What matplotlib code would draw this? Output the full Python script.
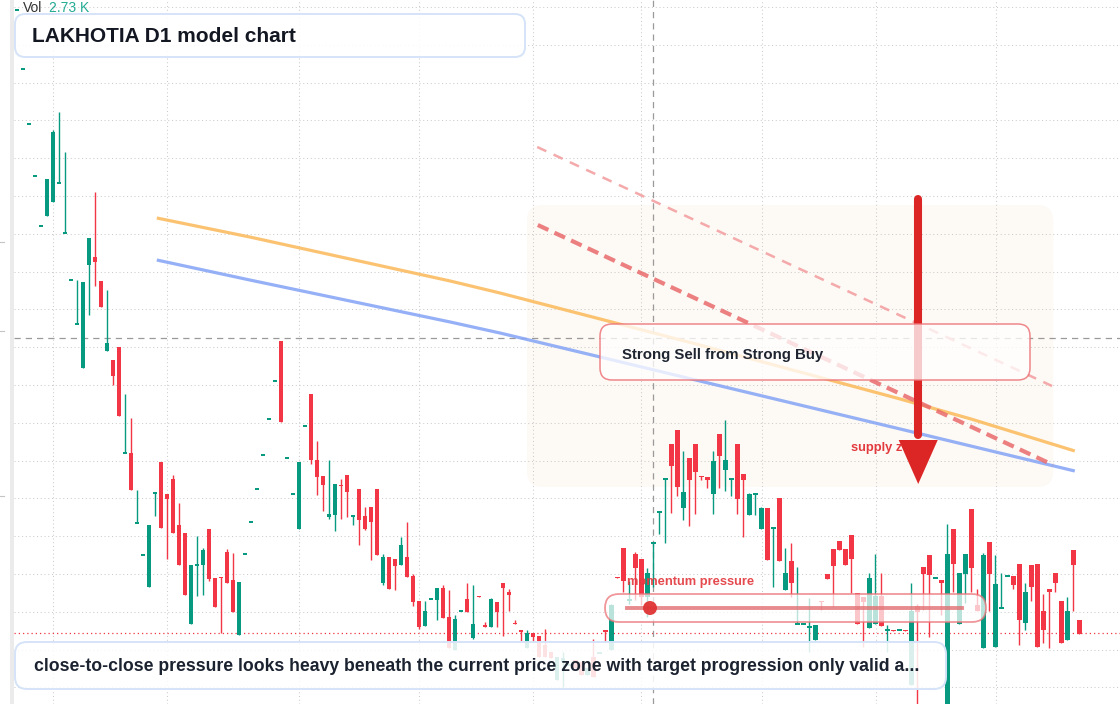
import matplotlib
matplotlib.use("Agg")
import matplotlib.pyplot as plt
import numpy as np
from matplotlib.patches import FancyBboxPatch, Polygon, Rectangle, Circle
from matplotlib.transforms import IdentityTransform
from matplotlib.lines import Line2D

plt.rcParams['font.family'] = ['Liberation Sans', 'DejaVu Sans']

# ---------------- data (daily candles, price units) ----------------
opens = [71.0, 65.1, 59.6, 54.4, 49.4, 50.4, 51.8, 53.7, 48.7, 44.0,
         39.6, 35.2, 45.5, 46.3, 43.9, 36.9, 36.0, 37.3, 26.7, 26.7,
         19.7, 16.5, 13.3, 22.7, 25.8, 22.6, 24.1, 19.5, 18.7, 9.6,
         15.5, 15.5, 19.1, 14.2, 14.3, 16.8, 14.0, 8.5, 16.6, 19.8,
         23.1, 26.5, 30.1, 33.9, 37.9, 26.2, 22.6, 19.1, 29.4, 32.6,
         26.0, 24.4, 20.3, 20.5, 23.5, 24.5, 20.4, 23.1, 20.4, 21.3,
         23.1, 13.7, 16.3, 16.1, 15.5, 16.3, 14.4, 11.9, 9.4, 12.1,
         12.0, 13.2, 10.3, 7.0, 10.9, 12.1, 8.2, 12.4, 9.5, 9.3,
         11.8, 13.7, 12.8, 9.7, 9.0, 7.2, 8.7, 8.4, 7.5, 6.8,
         4.0, 5.8, 5.5, 6.0, 5.8, 4.5, 6.3, 6.7, 9.0, 7.0,
         14.3, 17.2, 12.0, 16.6, 16.1, 12.3, 17.7, 20.8, 24.1, 27.6,
         29.0, 21.2, 26.2, 27.6, 24.4, 24.3, 22.6, 28.6, 25.0, 24.1,
         27.6, 24.6, 20.5, 22.6, 19.1, 21.2, 19.2, 22.2, 13.0, 15.9,
         9.6, 9.6, 9.3, 8.0, 11.9, 14.6, 17.1, 17.9, 17.1, 18.5,
         12.7, 12.3, 9.2, 9.6, 12.4, 9.0, 9.0, 9.0, 9.0, 3.5,
         11.4, 15.3, 16.5, 14.2, 14.0, 1.6, 19.1, 9.6, 14.6, 21.1,
         11.5, 7.2, 17.8, 7.3, 11.2, 14.4, 14.4, 15.6, 9.7, 15.5,
         15.6, 10.9, 13.1, 14.7, 11.9, 8.0, 17.0, 10.0]
highs = [71.0, 65.1, 59.6, 54.4, 49.4, 54.1, 59.0, 60.8, 56.8, 44.0,
         44.0, 43.8, 48.2, 52.8, 43.9, 43.0, 36.0, 37.3, 32.6, 30.2,
         23.0, 16.5, 19.5, 22.7, 25.8, 22.6, 24.5, 21.7, 18.7, 15.5,
         18.4, 17.2, 19.1, 14.2, 14.3, 17.1, 16.7, 13.8, 16.6, 19.8,
         23.1, 26.5, 30.1, 33.9, 37.9, 26.2, 22.6, 25.8, 29.4, 32.6,
         27.9, 24.4, 26.0, 23.6, 24.1, 24.5, 20.4, 23.1, 21.3, 21.3,
         23.1, 16.6, 16.3, 16.1, 18.3, 19.8, 14.6, 11.9, 11.9, 12.1,
         13.2, 13.5, 13.0, 10.5, 10.9, 13.7, 13.5, 12.4, 9.8, 12.2,
         11.8, 13.7, 13.1, 10.0, 9.0, 9.0, 8.7, 8.4, 9.1, 6.8,
         6.3, 6.8, 5.5, 6.0, 5.8, 5.2, 8.1, 6.7, 9.0, 11.6,
         14.3, 17.2, 13.9, 16.8, 16.1, 15.2, 17.7, 20.8, 24.1, 27.6,
         29.0, 26.9, 26.2, 27.6, 24.4, 24.3, 26.9, 28.6, 30.0, 24.1,
         27.6, 24.6, 22.7, 22.6, 21.3, 21.2, 19.2, 22.2, 17.2, 17.7,
         15.3, 9.6, 12.2, 9.5, 11.9, 14.6, 17.1, 17.9, 17.1, 18.5,
         12.7, 12.3, 14.7, 16.6, 14.7, 9.5, 9.0, 9.0, 9.0, 13.7,
         11.6, 15.3, 16.5, 14.2, 14.0, 19.6, 19.1, 14.7, 16.6, 21.1,
         13.1, 16.7, 17.8, 16.5, 14.7, 14.4, 14.4, 15.6, 13.7, 15.5,
         15.6, 12.6, 13.1, 14.7, 11.9, 12.3, 17.0, 10.0]
lows = [71.0, 65.1, 59.6, 54.4, 49.4, 50.4, 51.8, 53.7, 48.7, 44.0,
        39.6, 35.2, 40.5, 43.4, 41.3, 36.9, 33.5, 30.4, 26.7, 23.0,
        19.7, 16.5, 13.3, 20.4, 19.2, 16.1, 18.7, 15.5, 12.5, 9.6,
        12.4, 12.5, 13.9, 11.3, 8.7, 13.7, 10.8, 8.5, 16.6, 19.8,
        23.1, 26.5, 30.1, 33.9, 29.8, 26.2, 22.6, 19.1, 29.4, 25.6,
        22.5, 20.9, 20.1, 18.9, 20.1, 20.3, 19.5, 17.5, 19.0, 16.0,
        16.5, 13.5, 13.1, 13.0, 15.5, 14.3, 11.4, 9.1, 9.4, 12.1,
        10.0, 10.2, 7.2, 7.0, 10.9, 10.8, 8.1, 12.3, 9.3, 9.3,
        9.3, 8.4, 10.9, 9.6, 7.9, 7.2, 7.8, 6.3, 6.3, 6.2,
        4.0, 3.3, 5.5, 5.2, 4.5, 4.5, 4.3, 6.7, 7.8, 7.0,
        14.2, 12.8, 11.6, 12.0, 11.5, 10.3, 13.3, 18.6, 17.7, 20.7,
        22.4, 20.0, 19.4, 20.6, 24.0, 23.2, 20.6, 23.2, 22.9, 22.4,
        20.6, 18.3, 20.5, 20.5, 19.1, 16.0, 13.3, 15.9, 13.0, 12.3,
        9.6, 9.6, 6.8, 8.0, 11.0, 14.1, 11.3, 17.0, 15.5, 12.7,
        9.6, 7.3, 9.2, 9.6, 9.4, 6.8, 8.9, 9.0, 8.9, 3.5,
        1.6, 11.0, 8.3, 14.2, 10.5, 1.6, 12.8, 9.6, 11.7, 12.8,
        10.9, 7.2, 10.9, 7.3, 11.2, 14.4, 13.1, 7.5, 9.0, 11.9,
        7.3, 7.7, 7.2, 12.8, 7.7, 8.0, 10.9, 8.6]
closes = [71.0, 65.1, 59.6, 54.4, 49.4, 54.1, 58.8, 53.7, 48.7, 44.0,
          39.6, 43.8, 48.2, 45.8, 41.3, 37.7, 34.4, 30.4, 26.7, 23.0,
          19.7, 16.5, 19.5, 22.7, 19.2, 22.1, 18.7, 15.5, 12.5, 15.5,
          15.5, 17.0, 14.1, 11.3, 14.2, 13.7, 10.8, 13.8, 16.6, 19.8,
          23.1, 26.5, 30.1, 33.9, 29.8, 26.2, 22.6, 25.8, 29.4, 26.0,
          24.3, 23.5, 20.6, 23.6, 23.4, 22.8, 20.4, 20.0, 19.1, 19.8,
          16.5, 16.3, 13.1, 15.4, 17.5, 14.3, 11.8, 9.3, 10.9, 12.1,
          13.2, 10.2, 7.2, 10.1, 10.9, 10.8, 9.6, 12.3, 9.3, 12.1,
          10.8, 13.2, 12.5, 9.6, 8.8, 8.7, 8.3, 6.3, 6.3, 6.2,
          6.3, 6.2, 5.5, 5.2, 4.5, 5.2, 4.3, 6.7, 8.8, 11.5,
          14.2, 13.9, 12.0, 15.2, 12.3, 14.7, 17.7, 20.8, 24.1, 25.4,
          23.3, 22.8, 24.0, 24.8, 24.3, 24.0, 25.9, 26.4, 26.0, 24.1,
          22.1, 24.0, 22.6, 22.6, 21.2, 16.0, 19.2, 15.9, 14.7, 13.7,
          9.6, 9.6, 9.3, 9.5, 11.8, 14.1, 15.4, 17.0, 15.5, 16.1,
          9.6, 11.8, 14.2, 12.4, 9.4, 9.0, 8.9, 9.0, 8.9, 10.9,
          10.8, 14.6, 14.5, 14.2, 13.7, 16.6, 15.6, 14.7, 16.6, 15.2,
          10.9, 16.5, 14.6, 13.6, 11.2, 14.4, 13.5, 10.0, 12.8, 13.3,
          7.3, 9.0, 12.8, 13.7, 7.7, 10.9, 15.5, 8.6]

# trend curves (candle index, price)
orange_x = [23.3, 38.8, 55.5, 72.2, 80.5, 97.2, 113.8, 130.5, 147.2, 159.0, 176.3]
orange_y = [50.2, 48.3, 46.1, 43.9, 42.7, 40.1, 37.5, 34.8, 32.1, 30.1, 26.9]
blue_x = [23.3, 38.8, 55.5, 72.2, 80.5, 97.2, 113.8, 130.5, 147.2, 163.8, 176.3]
blue_y = [46.0, 44.0, 41.9, 39.8, 38.7, 36.3, 33.9, 31.5, 29.1, 26.7, 24.9]
dash_main_x, dash_main_y = [86.8, 172.7], [49.5, 25.5]
dash_upper_x, dash_upper_y = [86.7, 172.5], [57.3, 33.4]
supply_zone = dict(x0=85.0, x1=172.7, y0=23.3, y1=51.5)
arrow_x, arrow_from, arrow_to = 150.2, 52.1, 23.6
last_price = 8.7
crosshair_x, crosshair_y = 106, 38.2
month_starts = [6, 25, 47, 67, 86, 104, 124.2, 143.2, 163.2]
grid_prices = [71.3 - 3.78 * k for k in range(19)]

title = "LAKHOTIA D1 model chart"
note = ("close-to-close pressure looks heavy beneath the current price zone "
        "with target progression only valid a...")
signal_text = "Strong Sell from Strong Buy"
zone_text = "supply zone"
momentum_text = "momentum pressure"
vol_label, vol_value = "Vol", "2.73 K"

GREEN = '#089981'
RED = '#f23645'

# ---------------- figure ----------------
W, H = 1120, 704
fig = plt.figure(figsize=(W / 100, H / 100), dpi=100)
fig.patch.set_facecolor('white')
ax = fig.add_axes([14 / W, 0, (W - 14) / W, 1])
ax.set_xlim(-0.5, 183.83)
ax.set_ylim(1.6, 72.0)
ax.axis('off')
ID = IdentityTransform()


def px(x, y):
    return x, H - y


# left price-scale strip
fig.add_artist(Rectangle((10, 0), 4, H, transform=ID, facecolor='#ebebeb', edgecolor='none'))
for yy in [242, 331, 496]:
    fig.add_artist(Line2D([0, 4], [H - yy, H - yy], transform=ID, color='#c4c4c4', lw=0.8))

# grid
for p in grid_prices:
    ax.axhline(p, color='#cccccc', lw=0.75, linestyle=(0, (1, 2.6)), zorder=1)
for m in month_starts:
    ax.axvline(m, color='#cccccc', lw=0.75, linestyle=(0, (1, 2.6)), zorder=1)

# supply zone (rounded, very light)
z0 = ax.transData.transform((supply_zone['x0'], supply_zone['y0']))
z1 = ax.transData.transform((supply_zone['x1'], supply_zone['y1']))
ax.add_patch(FancyBboxPatch((z0[0], z0[1]), z1[0] - z0[0], z1[1] - z0[1],
                            boxstyle='round,pad=0,rounding_size=16', transform=ID,
                            facecolor='#fcf6ef', edgecolor='none', alpha=0.65,
                            zorder=0.5, clip_on=False))

# crosshair & last price line
ax.axvline(crosshair_x, color='#9a9a9a', lw=0.9, dashes=(5, 4), zorder=2.6)
ax.axhline(crosshair_y, color='#9a9a9a', lw=0.9, dashes=(5, 4), zorder=2.6)
ax.axhline(last_price, color=RED, lw=0.9, linestyle=(0, (1, 2.4)), zorder=2.5)

# candles
o = np.array(opens); h = np.array(highs); l = np.array(lows); c = np.array(closes)
idx = np.arange(len(o))
up = c >= o
cols = np.where(up, GREEN, RED)
ax.vlines(idx, l, h, colors=cols, lw=1.0, zorder=3)
mid = (o + c) / 2
hgt = np.maximum(np.abs(c - o), 0.18)
ax.bar(idx, hgt, bottom=mid - hgt / 2, width=0.83, color=cols, linewidth=0, zorder=3.1)

# trend curves
ax.plot(orange_x, orange_y, color='#fbbd62', lw=2.3, alpha=0.9, zorder=4, solid_capstyle='butt')
ax.plot(blue_x, blue_y, color='#8aa8f5', lw=2.3, alpha=0.9, zorder=4, solid_capstyle='butt')
ax.plot(dash_main_x, dash_main_y, color='#e96a6c', lw=3.0, alpha=0.85,
        dashes=(2.8, 1.6), zorder=4.2, solid_capstyle='butt', dash_capstyle='butt')
ax.plot(dash_upper_x, dash_upper_y, color='#f3a0a2', lw=1.8, alpha=0.9,
        dashes=(4, 3.2), zorder=4.1, dash_capstyle='butt')

# supply zone label
ax.text(139, 27.2, zone_text, color='#e23a3f', fontsize=9.3, fontweight='bold',
        ha='left', va='center', zorder=5)

# red arrow
head_top = 28.0
ax.plot([arrow_x, arrow_x], [arrow_from, head_top + 0.5], color='#dc2626', lw=5.8,
        solid_capstyle='round', zorder=6)
ax.add_patch(Polygon([(arrow_x - 3.25, head_top), (arrow_x + 3.25, head_top), (arrow_x, arrow_to)],
                     closed=True, facecolor='#dc2626', edgecolor='none', zorder=6))


def box(x0, y0, x1, y1, r, fc, fa, ec, lw, z):
    bx, by = px(x0, y1)
    p = FancyBboxPatch((bx, by), x1 - x0, y1 - y0, boxstyle=f'round,pad=0,rounding_size={r}',
                       transform=ID, facecolor=(1, 1, 1, fa) if fc == 'white' else fc,
                       edgecolor=ec, lw=lw, zorder=z, clip_on=False)
    ax.add_patch(p)


# Strong sell box
box(600, 324, 1030, 380, 12, 'white', 0.76, (0.93, 0.45, 0.47, 0.85), 1.1, 7)
ax.text(*px(622, 354.5), signal_text, transform=ID, fontsize=10.8, fontweight='bold',
        color='#1e2530', ha='left', va='center', zorder=7.5)

# momentum widget
box(605, 594, 986, 622, 14, 'white', 0.72, (0.92, 0.45, 0.47, 0.75), 1.3, 7)
ax.add_line(Line2D([627, 962], [H - 608, H - 608], transform=ID, color='#e26f72',
                   lw=2.8, alpha=0.8, zorder=7.2))
ax.add_patch(Circle(px(650, 608), 7, transform=ID, facecolor='#e03434', edgecolor='none',
                    alpha=0.95, zorder=7.3, clip_on=False))
ax.text(*px(627, 582), momentum_text, transform=ID, fontsize=9.3, fontweight='bold',
        color='#e23a3f', alpha=0.92, ha='left', va='center', zorder=7.5)

# bottom note box
box(15, 642, 946, 689, 12, 'white', 0.86, '#d5e3f8', 1.4, 8)
ax.text(*px(34, 666.5), note, transform=ID, fontsize=12.7, fontweight='bold',
        color='#1b2230', ha='left', va='center', zorder=8.5)

# title box
box(15, 14, 525, 57, 10, 'white', 0.92, '#d5e3f8', 1.4, 8)
ax.text(*px(32, 36), title, transform=ID, fontsize=15, fontweight='bold',
        color='#131722', ha='left', va='center', zorder=8.5)

# volume legend
ax.text(*px(23, 8.5), vol_label, transform=ID, fontsize=10, color='#333333',
        ha='left', va='center', zorder=8.5)
ax.text(*px(49, 8.5), vol_value, transform=ID, fontsize=10, color='#22ab94',
        ha='left', va='center', zorder=8.5)

fig.savefig('out.png', dpi=100, facecolor='white')
